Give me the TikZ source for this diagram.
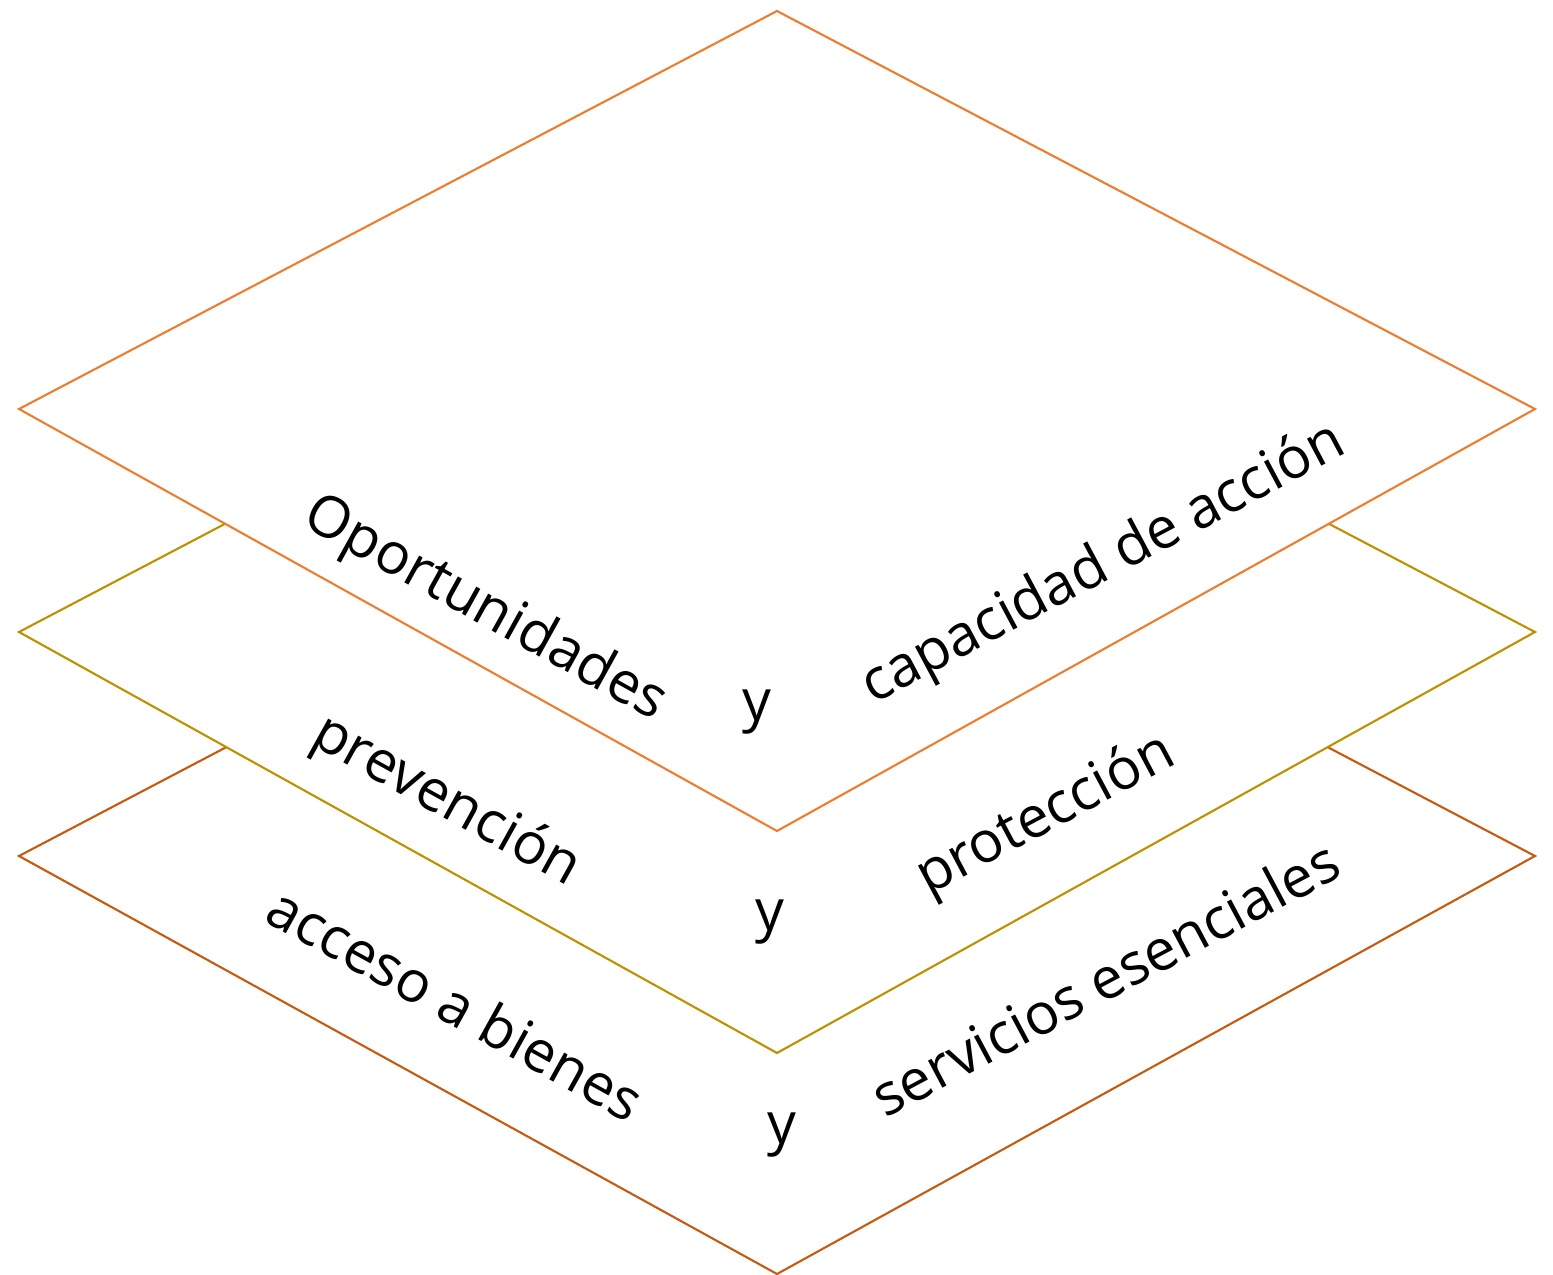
\documentclass[tikz,border=0pt]{standalone}
\usepackage{fontspec}
\setmainfont{Open Sans}
\usetikzlibrary{positioning}
\definecolor{layerorange}{RGB}{237,125,49}
\definecolor{layergold}{RGB}{191,144,0}
\definecolor{layerrust}{RGB}{197,90,17}
\begin{document}
\begin{tikzpicture}[x=0.01cm, y=-0.01cm,
    layer/.style={line width=0.6pt, fill=white, line join=miter},
    lbl/.style={font=\fontsize{16.3}{19}\selectfont, inner sep=0pt}]
\useasboundingbox (0,0) rectangle (1553,1275);

% Bottom layer
\draw[layer, draw=layerrust] (19,856) -- (777,458) -- (1535,856) -- (777,1274) -- cycle;

% Middle layer
\draw[layer, draw=layergold] (19,632) -- (777,234) -- (1535,632) -- (777,1053) -- cycle;

% Top layer
\draw[layer, draw=layerorange] (19,409) -- (777,11) -- (1535,409) -- (777,831) -- cycle;

% Top labels
\node[lbl, rotate=-29] (oport) at (485,610) {Oportunidades};
\node[lbl] (y1) at (757,712) {y};
\node[lbl, rotate=28] (capac) at (1104,565) {capacidad de acción};

% Middle labels
\node[lbl, rotate=-29] (prev) at (446,802) {prevención};
\node[lbl] (y2) at (770,922) {y};
\node[lbl, rotate=28] (prot) at (1046,816) {protección};

% Bottom labels
\node[lbl, rotate=-29] (acceso) at (456,1003) {acceso a bienes};
\node[lbl] (y3) at (782,1135) {y};
\node[lbl, rotate=28] (serv) at (1105,978) {servicios esenciales};
\end{tikzpicture}
\end{document}
